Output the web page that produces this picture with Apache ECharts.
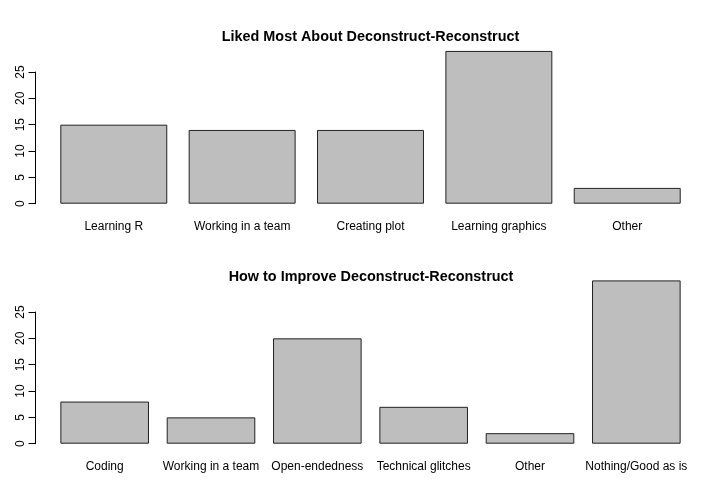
<!DOCTYPE html>
<html>
<head>
<meta charset="utf-8">
<script src="https://cdn.jsdelivr.net/npm/echarts@6/dist/echarts.min.js"></script>
<style>html,body{margin:0;padding:0;background:#fff}#c{width:720px;height:480px}</style>
</head>
<body>
<div id="c"></div>
<script>
var likedTitle = 'Liked Most About Deconstruct-Reconstruct';
var likedCategories = ['Learning R', 'Working in a team', 'Creating plot', 'Learning graphics', 'Other'];
var likedValues = [15, 14, 14, 29, 3];

var improveTitle = 'How to Improve Deconstruct-Reconstruct';
var improveCategories = ['Coding', 'Working in a team', 'Open-endedness', 'Technical glitches', 'Other', 'Nothing/Good as is'];
var improveValues = [8, 5, 20, 7, 2, 31];

var yTicks = [0, 5, 10, 15, 20, 25];

var FONT = "'Liberation Sans', Arial, Helvetica, sans-serif";
var unitPx = 131.7 / 25; // pixels per count

function maxOf(a){ return Math.max.apply(null, a); }

var chart = echarts.init(document.getElementById('c'), null, {renderer: 'canvas'});

var zeroTop = 203.7, zeroBot = 443.7;
var likedMax = maxOf(likedValues) * 1.04;
var improveMax = maxOf(improveValues) * 1.04;

function mainGrid(zero, ymax, left, right) {
  var h = ymax * unitPx;
  return {left: left, width: right - left, top: zero - h, height: h, containLabel: false};
}
function axisGrid(zero) {
  var h = yTicks[yTicks.length - 1] * unitPx;
  return {left: 35.5, width: 10, top: zero - h, height: h, containLabel: false};
}

var catAxis = function(cats, gi, margin) {
  return {
    type: 'category', gridIndex: gi, data: cats,
    boundaryGap: true,
    axisLine: {show: false}, axisTick: {show: false},
    axisLabel: {color: '#000', fontFamily: FONT, fontSize: 12, margin: margin, interval: 0}
  };
};
var hiddenX = function(gi) {
  return {type: 'value', gridIndex: gi, show: false, min: 0, max: 1};
};
var hiddenY = function(gi, mx) {
  return {type: 'value', gridIndex: gi, show: false, min: 0, max: mx};
};
var visY = function(gi) {
  return {
    type: 'value', gridIndex: gi, min: yTicks[0], max: yTicks[yTicks.length - 1], interval: 5,
    splitLine: {show: false},
    axisLine: {show: true, lineStyle: {color: '#000', width: 1}},
    axisTick: {show: true, length: 7, lineStyle: {color: '#000', width: 1}},
    axisLabel: {color: '#000', fontFamily: FONT, fontSize: 12, rotate: 90, margin: 9}
  };
};

var barStyle = {color: '#bebebe', borderColor: '#222', borderWidth: 1};

chart.setOption({
  animation: false,
  backgroundColor: '#fff',
  title: [
    {text: likedTitle, left: 365.5, top: 25, textAlign: 'center',
     textStyle: {fontFamily: FONT, fontSize: 14.4, fontWeight: 'bold', color: '#000'}},
    {text: improveTitle, left: 366, top: 265, textAlign: 'center',
     textStyle: {fontFamily: FONT, fontSize: 14.4, fontWeight: 'bold', color: '#000'}}
  ],
  grid: [
    mainGrid(zeroTop, likedMax, 49.6, 691.4),
    axisGrid(zeroTop),
    mainGrid(zeroBot, improveMax, 51.5, 689.5),
    axisGrid(zeroBot)
  ],
  xAxis: [
    catAxis(likedCategories, 0, 17),
    hiddenX(1),
    catAxis(improveCategories, 2, 17),
    hiddenX(3)
  ],
  yAxis: [
    hiddenY(0, likedMax),
    visY(1),
    hiddenY(2, improveMax),
    visY(3)
  ],
  series: [
    {type: 'bar', xAxisIndex: 0, yAxisIndex: 0, data: likedValues, barWidth: '83.333%', itemStyle: barStyle, silent: true},
    {type: 'bar', xAxisIndex: 2, yAxisIndex: 2, data: improveValues, barWidth: '83.333%', itemStyle: barStyle, silent: true}
  ]
});
</script>
</body>
</html>
